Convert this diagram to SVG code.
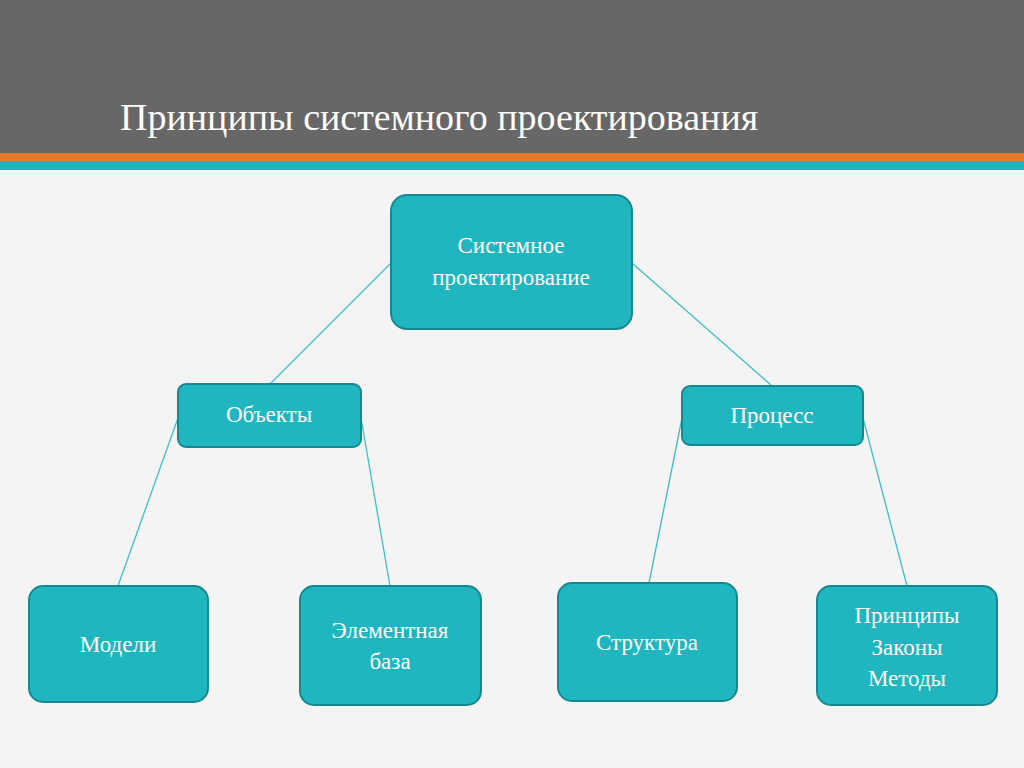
<svg xmlns="http://www.w3.org/2000/svg" width="1024" height="768" viewBox="0 0 1024 768">
<style>
.n{fill:#1fb6bf;stroke:#168990;stroke-width:2}
.t{font-family:"Liberation Serif",serif;font-size:23px;fill:#fff;text-anchor:middle}
.c line{stroke:#3fbfc6;stroke-width:1.3}
</style>
<rect width="1024" height="768" fill="#f4f4f4"/>
<rect width="1024" height="153" fill="#676767"/>
<rect y="153" width="1024" height="8" fill="#e8792a"/>
<rect y="161" width="1024" height="9" fill="#22b2bb"/>
<text x="120" y="130" font-family="Liberation Serif,serif" font-size="38" fill="#fff">Принципы системного проектирования</text>
<g class="c">
<line x1="391" y1="263" x2="270" y2="384"/>
<line x1="632" y1="263" x2="772" y2="386"/>
<line x1="178" y1="418" x2="118" y2="586"/>
<line x1="361" y1="418" x2="390" y2="586"/>
<line x1="682" y1="418" x2="649" y2="583"/>
<line x1="863" y1="418" x2="907" y2="586"/>
</g>
<g id="root"><rect class="n" x="391" y="195" width="241" height="134" rx="16"/><text class="t" x="511" y="253">Системное</text><text class="t" x="511" y="285">проектирование</text></g>
<g id="objects"><rect class="n" x="178" y="384" width="183" height="63" rx="8"/><text class="t" x="269" y="422">Объекты</text></g>
<g id="process"><rect class="n" x="682" y="386" width="181" height="59" rx="8"/><text class="t" x="772" y="423">Процесс</text></g>
<g id="models"><rect class="n" x="29" y="586" width="179" height="116" rx="14"/><text class="t" x="118" y="652">Модели</text></g>
<g id="elements"><rect class="n" x="300" y="586" width="181" height="119" rx="14"/><text class="t" x="390" y="638">Элементная</text><text class="t" x="390" y="669">база</text></g>
<g id="structure"><rect class="n" x="558" y="583" width="179" height="118" rx="14"/><text class="t" x="647" y="650">Структура</text></g>
<g id="principles"><rect class="n" x="817" y="586" width="180" height="119" rx="14"/><text class="t" x="907" y="623">Принципы</text><text class="t" x="907" y="655">Законы</text><text class="t" x="907" y="686">Методы</text></g>
</svg>
